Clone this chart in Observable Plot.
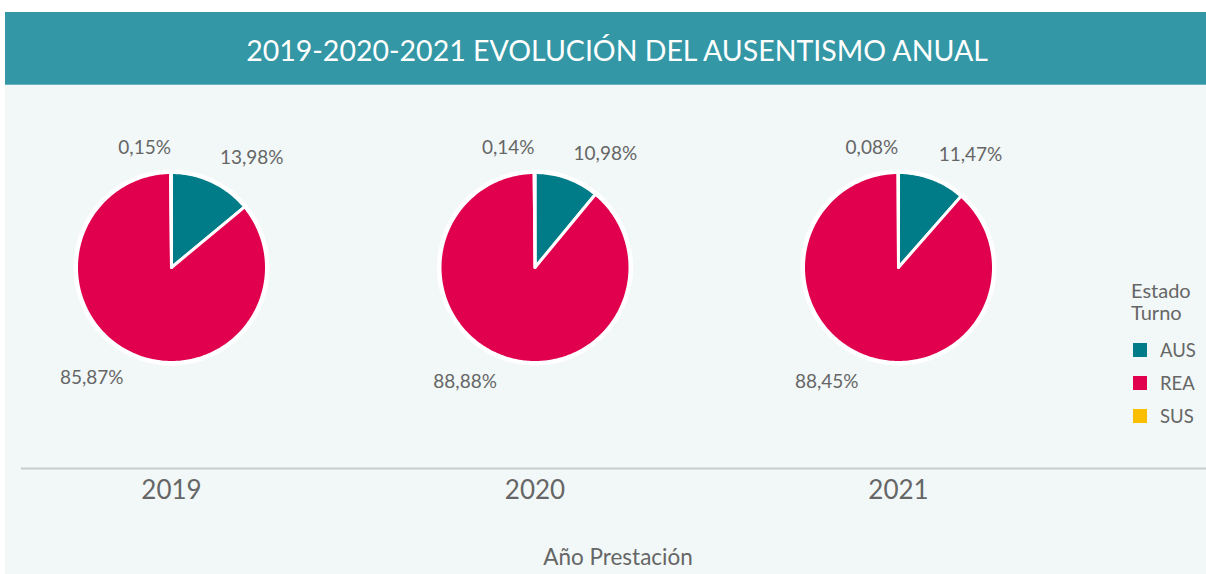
<!DOCTYPE html>
<html>
<head>
<meta charset="utf-8">
<script src="https://cdn.jsdelivr.net/npm/d3@7"></script>
<script src="https://cdn.jsdelivr.net/npm/@observablehq/plot@0.6"></script>
<style>
  html, body { margin: 0; padding: 0; background: #ffffff; width: 1206px; height: 574px; overflow: hidden; }
  body { font-family: Lato, "Open Sans", sans-serif; position: relative; }
  #banner { position: absolute; left: 5px; top: 12px; width: 1201px; height: 73px; background: #3397a5;
            border-bottom: 1px solid #6bb3be; box-sizing: border-box;
            color: #ffffff; font-size: 28.5px; display: flex; align-items: center; justify-content: center;
            padding-left: 23px; padding-top: 3px; }
  #area { position: absolute; left: 5px; top: 85px; width: 1201px; height: 489px; background: #f2f8f8; }
  #chart { position: absolute; left: 0; top: 0; }
  #legendTitle { position: absolute; left: 1126px; top: 194px; font-size: 20px; color: #666; line-height: 22px; }
  #legend { position: absolute; left: 1128px; top: 254px; }
  .lg-swatch { padding-bottom: 11px !important; margin: 0 !important; display: flex !important; align-items: center !important;
               font-size: 18.5px !important; color: #666 !important; font-family: Lato, sans-serif !important; }
  .lg-swatch svg { margin-right: 13px !important; }
  .lg, .lg-swatches { font-family: Lato, sans-serif !important; font-size: 18.5px !important; color: #666 !important; background: transparent !important; }
</style>
</head>
<body>
<div id="banner">2019-2020-2021 EVOLUCIÓN DEL AUSENTISMO ANUAL</div>
<div id="area">
  <div id="chart"></div>
  <div id="legendTitle">Estado<br>Turno</div>
  <div id="legend"></div>
</div>
<script>
// ---- data ----
const years = ["2019", "2020", "2021"];
const categories = ["AUS", "REA", "SUS"];
const colors = ["#007c89", "#e0004d", "#fcbf00"];
const aus = [13.98, 10.98, 11.47];
const rea = [85.87, 88.88, 88.45];
const sus = [0.15, 0.14, 0.08];
const axisTitle = "Año Prestación";

// ---- layout constants ----
const W = 1201, H = 489;
const xRange = [166, 893];          // pixel positions of first and last pie centre
const yRange = [383, 87];           // baseline .. top of pie
const yDomain = [-2.116, 1];        // pie radius = 1 unit in y
const rx = (95) / ((xRange[1] - xRange[0]) / 2); // radius expressed in x units
const labelR = 1.2;

// ---- derived tables ----
const rows = [];
years.forEach((yr, i) => {
  const vals = [aus[i], rea[i], sus[i]];
  const total = d3.sum(vals);
  let acc = 0;
  categories.forEach((c, k) => {
    const a0 = acc / total * 2 * Math.PI;
    acc += vals[k];
    const a1 = acc / total * 2 * Math.PI;
    rows.push({i, year: yr, cat: c, value: vals[k], a0, a1, mid: (a0 + a1) / 2});
  });
});

const poly = [];
rows.forEach(r => {
  const key = r.year + "-" + r.cat;
  poly.push({key, cat: r.cat, x: r.i, y: 0});
  const n = Math.max(2, Math.ceil((r.a1 - r.a0) / (Math.PI / 180)));
  for (let j = 0; j <= n; j++) {
    const a = r.a0 + (r.a1 - r.a0) * j / n;
    poly.push({key, cat: r.cat, x: r.i + Math.sin(a) * rx, y: Math.cos(a)});
  }
  poly.push({key, cat: r.cat, x: r.i, y: 0});
});

const outline = [];
years.forEach((yr, i) => {
  for (let j = 0; j <= 360; j++) {
    const a = j * Math.PI / 180;
    outline.push({key: yr, x: i + Math.sin(a) * rx, y: Math.cos(a)});
  }
});

const labels = rows.map(r => ({
  x: r.i + Math.sin(r.mid) * rx * labelR,
  y: Math.cos(r.mid) * labelR,
  text: r.value.toFixed(2).replace(".", ",") + "%",
  h: Math.sin(r.mid) >= 0 ? "start" : "end",
  v: Math.cos(r.mid) >= 0 ? "bottom" : "top"
}));

const labelMarks = [];
for (const h of ["start", "end"]) {
  for (const v of ["bottom", "top"]) {
    labelMarks.push(Plot.text(labels.filter(d => d.h === h && d.v === v),
      {x: "x", y: "y", text: "text", textAnchor: h, lineAnchor: v, fontSize: 19, fill: "#666666"}));
  }
}

const yearRows = years.map((y, i) => ({i, year: y}));

const colorScale = {domain: categories, range: colors};

const plot = Plot.plot({
  width: W,
  height: H,
  marginLeft: 16,
  marginRight: 0,
  marginTop: 0,
  marginBottom: H - yRange[0],
  style: {background: "transparent", fontFamily: "Lato, sans-serif", overflow: "visible"},
  x: {domain: [0, years.length - 1], range: xRange, axis: null},
  y: {domain: yDomain, range: yRange, axis: null},
  color: colorScale,
  marks: [
    Plot.line(outline, {x: "x", y: "y", z: "key", stroke: "#ffffff", strokeWidth: 6, fill: "#ffffff"}),
    Plot.line(poly, {x: "x", y: "y", z: "key", fill: "cat", stroke: "#ffffff", strokeWidth: 3, strokeLinejoin: "miter", strokeMiterlimit: 4}),
    ...labelMarks,
    Plot.ruleY([yDomain[0]], {stroke: "#c9cccc", strokeWidth: 2}),
    Plot.text(yearRows, {x: "i", text: "year", frameAnchor: "bottom", dy: 30, fontSize: 26, fill: "#666666"}),
    Plot.text([axisTitle], {frameAnchor: "bottom", dy: 96, dx: 4, fontSize: 22.5, fill: "#666666"})
  ]
});
document.getElementById("chart").appendChild(plot);

const leg = Plot.legend({color: colorScale, columns: 1, swatchSize: 14, className: "lg",
  style: {fontSize: "18.5px", fontFamily: "Lato, sans-serif", color: "#666", background: "transparent"}});
document.getElementById("legend").appendChild(leg);
</script>
</body>
</html>
